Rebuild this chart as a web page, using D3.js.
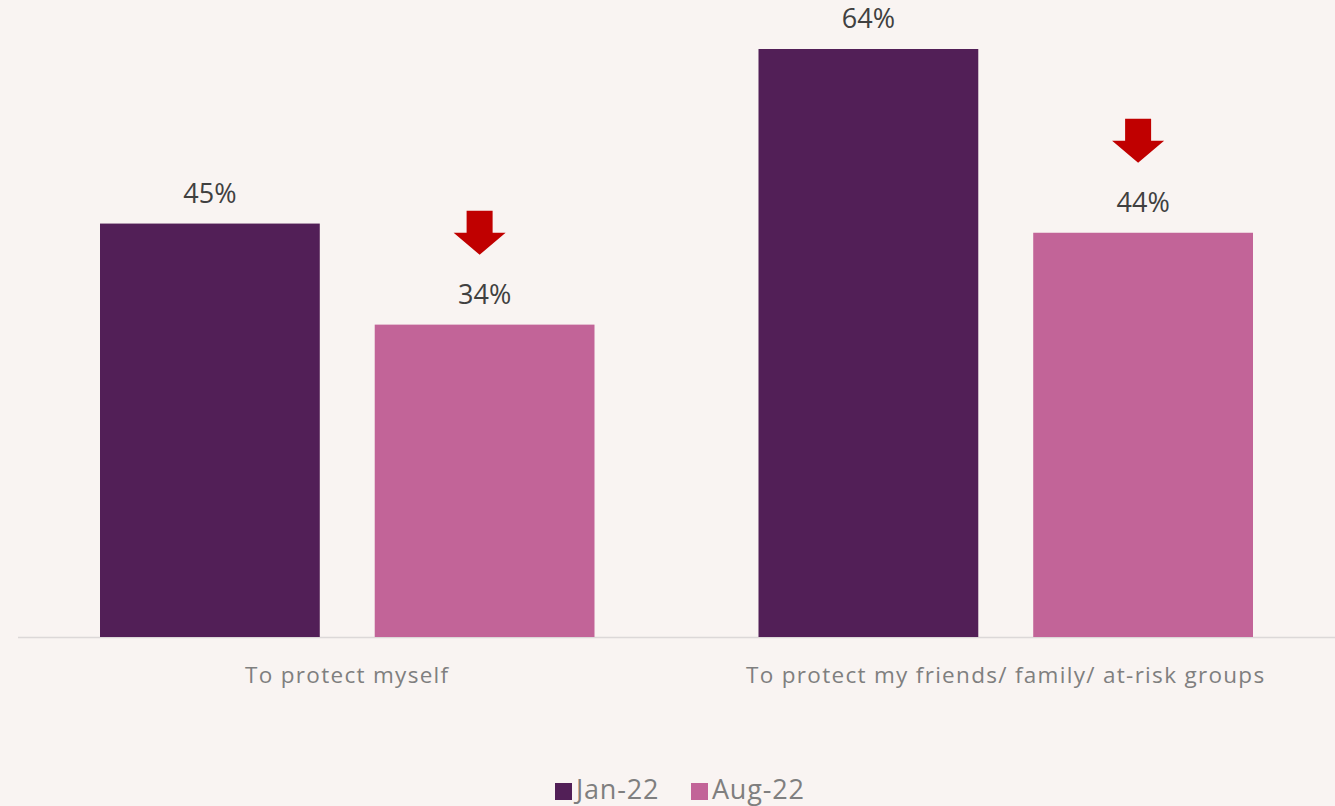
<!DOCTYPE html>
<html>
<head>
<meta charset="utf-8">
<script src="https://cdn.jsdelivr.net/npm/d3@7"></script>
<style>
  html, body { margin: 0; padding: 0; background: #f9f4f2; }
  svg { display: block; }
</style>
</head>
<body>
<svg id="chart"></svg>
<script>
// -- DATA --
const categories = ["To protect myself", "To protect my friends/ family/ at-risk groups"];
const seriesNames = ["Jan-22", "Aug-22"];
const jan22 = [45, 64];
const aug22 = [34, 44];
const decreased = [true, true]; // red arrow on the Aug-22 bar

const width = 1335;
const height = 806;
const colors = { "Jan-22": "#521f57", "Aug-22": "#c26498" };

const svg = d3.select("#chart").attr("width", width).attr("height", height);
svg.append("rect").attr("width", width).attr("height", height).attr("fill", "#f9f4f2");

// scales
const x0 = d3.scaleBand()
  .domain(categories)
  .range([18, 1335])
  .paddingInner(0)
  .paddingOuter(0);
const x1 = d3.scaleBand()
  .domain(seriesNames)
  .range([82, x0.bandwidth() - 82])
  .paddingInner(0.2);
const y = d3.scaleLinear().domain([0, 64]).range([637, 49]);

const rows = categories.map((c, i) => ({
  cat: c,
  values: [
    { key: "Jan-22", v: jan22[i] },
    { key: "Aug-22", v: aug22[i] }
  ],
  down: decreased[i]
}));

// baseline
svg.append("line")
  .attr("x1", 18).attr("x2", width)
  .attr("y1", y(0) + 0.5).attr("y2", y(0) + 0.5)
  .attr("stroke", "#dcd8d8").attr("stroke-width", 1.5);

const groups = svg.selectAll("g.cat")
  .data(rows)
  .enter()
  .append("g")
  .attr("class", "cat")
  .attr("transform", (d) => `translate(${x0(d.cat)},0)`);

groups.selectAll("rect")
  .data((d) => d.values)
  .enter()
  .append("rect")
  .attr("x", (d) => x1(d.key))
  .attr("y", (d) => y(d.v))
  .attr("width", x1.bandwidth())
  .attr("height", (d) => y(0) - y(d.v))
  .attr("fill", (d) => colors[d.key]);

// value labels
groups.selectAll("text.val")
  .data((d) => d.values)
  .enter()
  .append("text")
  .attr("class", "val")
  .attr("x", (d) => x1(d.key) + x1.bandwidth() / 2)
  .attr("y", (d) => y(d.v) - 21)
  .attr("text-anchor", "middle")
  .style("font-family", "'Open Sans', sans-serif")
  .style("font-size", "27px")
  .style("fill", "#404040")
  .text((d) => d.v + "%");

// red down arrows above the Aug-22 bars
groups.filter((d) => d.down)
  .append("path")
  .attr("transform", (d) => {
    const cx = x1("Aug-22") + x1.bandwidth() / 2 - 5;
    const tip = y(d.values[1].v) - 70;
    return `translate(${cx},${tip})`;
  })
  .attr("d", "M-13,-44 L13,-44 L13,-22 L26,-22 L0,0 L-26,-22 L-13,-22 Z")
  .attr("fill", "#c00000");

// category labels
svg.selectAll("text.cat")
  .data(categories)
  .enter()
  .append("text")
  .attr("class", "cat")
  .attr("x", (d) => x0(d) + x0.bandwidth() / 2)
  .attr("y", 683)
  .attr("text-anchor", "middle")
  .style("font-family", "'Open Sans', sans-serif")
  .style("font-size", "22.5px")
  .style("letter-spacing", "1.3px")
  .style("fill", "#7f7f7f")
  .text((d) => d);

// legend
const legend = svg.append("g").attr("transform", "translate(555,792)");
const legX = [0, 136];
seriesNames.forEach((s, i) => {
  const g = legend.append("g").attr("transform", `translate(${legX[i]},0)`);
  g.append("rect")
    .attr("x", 0).attr("y", -9)
    .attr("width", 17).attr("height", 17)
    .attr("fill", colors[s]);
  g.append("text")
    .attr("x", 21).attr("y", 7)
    .style("font-family", "'Open Sans', sans-serif")
    .style("font-size", "27px")
    .style("letter-spacing", "0.8px")
    .style("fill", "#7f7f7f")
    .text(s);
});
</script>
</body>
</html>
